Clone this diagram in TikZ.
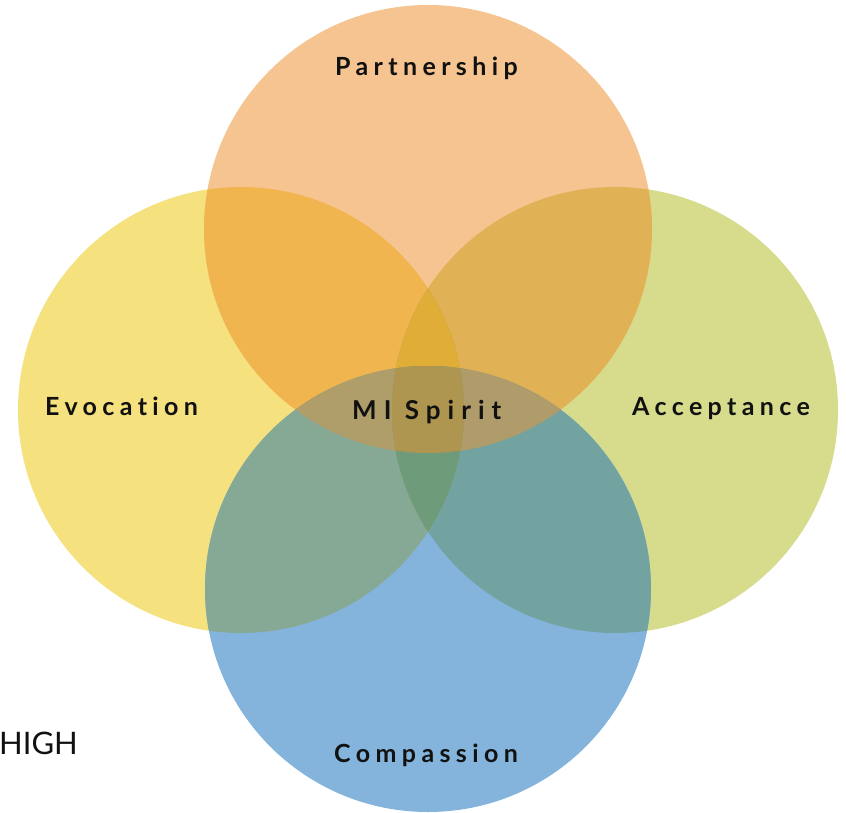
\documentclass[tikz,border=0pt]{standalone}
\usepackage{fontspec}
\setmainfont{Lato}
\newfontfamily\labfont[LetterSpace=21.5,Ligatures={NoCommon,NoDiscretionary,NoRare,NoContextual}]{Lato Bold}
\newfontfamily\spiritfont[LetterSpace=27,Ligatures={NoCommon,NoDiscretionary,NoRare,NoContextual}]{Lato Bold}
\newfontfamily\plainfont{Lato}
\definecolor{cT}{HTML}{F5C490}
\definecolor{cL}{HTML}{F5E17D}
\definecolor{cR}{HTML}{D7DB8C}
\definecolor{cB}{HTML}{84B4DC}
\definecolor{cTL}{HTML}{F0B54E}
\definecolor{cTR}{HTML}{E0B155}
\definecolor{cLB}{HTML}{86A996}
\definecolor{cRB}{HTML}{72A3A0}
\definecolor{cTB}{HTML}{B09C68}
\definecolor{cLR}{HTML}{A0A060}
\definecolor{cTLR}{HTML}{E0AE36}
\definecolor{cTLB}{HTML}{B09E6A}
\definecolor{cTRB}{HTML}{B09B6A}
\definecolor{cLRB}{HTML}{6E9B7A}
\definecolor{cAll}{HTML}{AE9650}
\definecolor{ink}{HTML}{111111}
\newcommand\pT{(428,229) circle[radius=224pt]}
\newcommand\pL{(241,410) circle[radius=223pt]}
\newcommand\pR{(615,410) circle[radius=223pt]}
\newcommand\pB{(428,589) circle[radius=223pt]}
\tikzset{lab/.style={font=\labfont\fontsize{25}{30}\selectfont, text=ink, inner sep=0pt, anchor=base west}}
\begin{document}
\begin{tikzpicture}[x=1pt,y=-1pt]
\useasboundingbox (0,0) rectangle (846,813);
% single circles
\fill[cL] \pL;
\fill[cR] \pR;
\fill[cT] \pT;
\fill[cB] \pB;
% pairs
\begin{scope}\clip \pT; \fill[cTL] \pL; \end{scope}
\begin{scope}\clip \pT; \fill[cTR] \pR; \end{scope}
\begin{scope}\clip \pL; \fill[cLB] \pB; \end{scope}
\begin{scope}\clip \pR; \fill[cRB] \pB; \end{scope}
\begin{scope}\clip \pT; \fill[cTB] \pB; \end{scope}
\begin{scope}\clip \pL; \fill[cLR] \pR; \end{scope}
% triples
\begin{scope}\clip \pT; \clip \pL; \fill[cTLR] \pR; \end{scope}
\begin{scope}\clip \pT; \clip \pL; \fill[cTLB] \pB; \end{scope}
\begin{scope}\clip \pT; \clip \pR; \fill[cTRB] \pB; \end{scope}
\begin{scope}\clip \pL; \clip \pR; \fill[cLRB] \pB; \end{scope}
% all four
\begin{scope}\clip \pT; \clip \pL; \clip \pR; \fill[cAll] \pB; \end{scope}
% labels
\node[lab] (partnership) at (335,76) {Partnership};
\node[lab] (evocation) at (45,415) {Evocation};
\node[lab] (acceptance) at (632,415) {Acceptance};
\node[lab] (compassion) at (334,762) {Compassion};
\node[lab, font=\spiritfont\fontsize{26}{30}\selectfont] (spirit) at (352,419) {MI Spirit};
\node[font=\plainfont\fontsize{31}{36}\selectfont, text=ink, inner sep=0pt, anchor=base west] (high) at (-1,754) {HIGH};
\end{tikzpicture}
\end{document}
